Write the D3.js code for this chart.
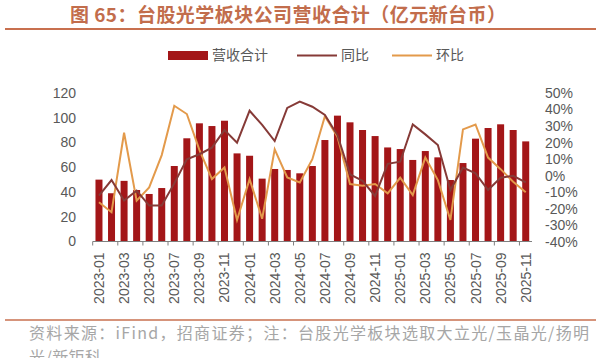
<!DOCTYPE html>
<html><head><meta charset="utf-8">
<script src="https://cdn.jsdelivr.net/npm/d3@7/dist/d3.min.js"></script>
<style>body{margin:0;background:#fff;overflow:hidden}svg{display:block}</style>
</head><body>
<svg id="c" width="597" height="358"></svg>
<script>
const months = [];
for (const y of [2023, 2024, 2025]) for (let m = 1; m <= 12; m++) { if (y === 2025 && m > 11) break; months.push(y + "-" + String(m).padStart(2, "0")); }
const revenue = [50, 39, 49, 41.6, 38.4, 43.2, 61, 83.4, 95.5, 93.3, 97.6, 71.2,
  69.3, 50.8, 58.6, 57.8, 55.1, 61, 82, 101.7, 96.3, 90.1, 85.2, 76,
  74.7, 65.9, 73.1, 68, 49.7, 63.4, 83.1, 91.7, 94.7, 90.1, 80.9];
const yoy = [-12, -2.6, -15, -9, -18, -18, -4.6, 10, 13, 17, 27.6, 20,
  39.3, 30.7, 21, 41, 44.8, 41.7, 36.7, 24.6, 0.9, -3, -12.2, 7.2,
  8.5, 31, 25, 18.6, -8.6, 5, 1.5, -8.6, -1.2, 0, -4];
const mom = [-16, -22, 26, -15, -7, 12.5, 42.3, 37.3, 15.6, -2, 5, -26.7,
  -2, -26, 16, -1, -4, 10, 36, 23.6, -5, -6, -5, -10.6,
  -1.2, -11.6, 11, -2.6, -26.7, 28, 31, 11, 4, -3.6, -10];
const leftTicks = [0, 20, 40, 60, 80, 100, 120];
const rightTicks = [-40, -30, -20, -10, 0, 10, 20, 30, 40, 50];
const title = "图 65：台股光学板块公司营收合计（亿元新台币）";
const sourceLine1 = "资料来源：iFind，招商证券；注：台股光学板块选取大立光/玉晶光/扬明";
const sourceLine2 = "光/新钜科";

const svg = d3.select("#c");
const cjk = "'Noto Sans CJK SC', sans-serif";
const lat = "'Liberation Sans', Arial, sans-serif";
const gray = "#595959";
const barC = "#a31618", yoyC = "#863a37", momC = "#e39a4b";

// title
svg.append("text").attr("x", 70).attr("y", 22).attr("font-family", cjk).attr("font-weight", "bold")
  .attr("font-size", 19).attr("fill", "#c26d4c").attr("textLength", 436).attr("lengthAdjust", "spacing").text(title);
svg.append("line").attr("x1", 5).attr("x2", 596).attr("y1", 29).attr("y2", 29).attr("stroke", "#c8704f").attr("stroke-width", 2);

const x = d3.scaleBand().domain(months).range([92.7, 532]).padding(0);
const yL = d3.scaleLinear().domain([0, 120]).range([241.5, 93]);
const yR = d3.scaleLinear().domain([-40, 50]).range([242, 93]);

// left axis labels
svg.append("g").selectAll("text").data(leftTicks).join("text")
  .attr("x", 76).attr("y", d => yL(d)).attr("dy", "0.35em").attr("text-anchor", "end")
  .attr("font-family", lat).attr("font-size", 14).attr("fill", gray).text(d => d);
// right axis labels
svg.append("g").selectAll("text").data(rightTicks).join("text")
  .attr("x", 545).attr("y", d => yR(d)).attr("dy", "0.35em").attr("text-anchor", "start")
  .attr("font-family", lat).attr("font-size", 14).attr("fill", gray).text(d => d + "%");

// bars
const bw = 7;
svg.append("g").selectAll("rect").data(revenue).join("rect")
  .attr("x", (d, i) => x(months[i]) + x.bandwidth() / 2 - bw / 2)
  .attr("width", bw).attr("y", d => yL(d)).attr("height", d => yL(0) - yL(d)).attr("fill", barC);

// x axis
const gx = svg.append("g").attr("transform", `translate(0,${yL(0)})`);
gx.append("line").attr("x1", 92.7).attr("x2", 532).attr("stroke", "#7f7f7f").attr("stroke-width", 1);
const tickIdx = d3.range(0, months.length + 1, 2);
gx.selectAll("line.t").data(tickIdx).join("line").attr("class", "t")
  .attr("x1", i => i < months.length ? x(months[i]) : x.range()[1])
  .attr("x2", i => i < months.length ? x(months[i]) : x.range()[1])
  .attr("y1", 0).attr("y2", 4).attr("stroke", "#7f7f7f");
gx.selectAll("text").data(months.filter((d, i) => i % 2 === 0)).join("text")
  .attr("transform", d => `translate(${x(d) + x.bandwidth() / 2 + 5},11) rotate(-90)`)
  .attr("text-anchor", "end").attr("font-family", lat).attr("font-size", 14).attr("fill", gray).text(d => d);

// lines
const line = arr => d3.line().x((d, i) => x(months[i]) + x.bandwidth() / 2).y(d => yR(d))(arr);
svg.append("path").attr("d", line(mom)).attr("fill", "none").attr("stroke", momC).attr("stroke-width", 2);
svg.append("path").attr("d", line(yoy)).attr("fill", "none").attr("stroke", yoyC).attr("stroke-width", 2);

// legend
const lg = svg.append("g").attr("font-family", cjk).attr("font-size", 14).attr("fill", gray);
lg.append("rect").attr("x", 168).attr("y", 51).attr("width", 40).attr("height", 9).attr("fill", barC);
lg.append("text").attr("x", 212).attr("y", 55.5).attr("dy", "0.35em").attr("fill", gray).text("营收合计");
lg.append("line").attr("x1", 297).attr("x2", 337).attr("y1", 55.5).attr("y2", 55.5).attr("stroke", yoyC).attr("stroke-width", 2);
lg.append("text").attr("x", 341).attr("y", 55.5).attr("dy", "0.35em").attr("fill", gray).text("同比");
lg.append("line").attr("x1", 392).attr("x2", 432).attr("y1", 55.5).attr("y2", 55.5).attr("stroke", momC).attr("stroke-width", 2);
lg.append("text").attr("x", 436).attr("y", 55.5).attr("dy", "0.35em").attr("fill", gray).text("环比");

// source
svg.append("line").attr("x1", 5).attr("x2", 596).attr("y1", 320).attr("y2", 320).attr("stroke", "#c8704f").attr("stroke-width", 1.5);
svg.append("text").attr("font-family", cjk).attr("font-size", 16).attr("fill", "#a6a6a6")
  .attr("x", 29).attr("y", 339).attr("textLength", 560).attr("lengthAdjust", "spacing").text(sourceLine1);
svg.append("text").attr("font-family", cjk).attr("font-size", 16).attr("fill", "#a6a6a6")
  .attr("x", 29).attr("y", 363).attr("textLength", 72).attr("lengthAdjust", "spacing").text(sourceLine2);
</script>
</body></html>
